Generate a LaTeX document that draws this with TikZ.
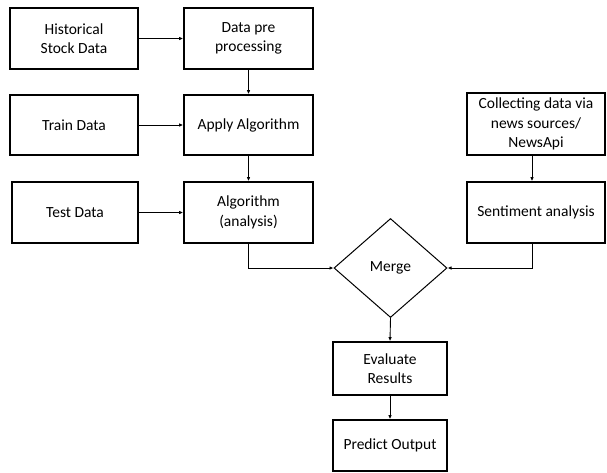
\documentclass[tikz,border=0pt]{standalone}
\usepackage{fontspec}
\setmainfont{Carlito}
\usetikzlibrary{shapes.geometric,arrows.meta}
\begin{document}
\begin{tikzpicture}[x=1pt,y=-1pt,
  box/.style={draw=black,line width=1.6pt,rectangle,inner sep=0pt,align=center,font=\fontsize{15.5}{19.5}\selectfont},
  dia/.style={draw=black,line width=1pt,diamond,inner sep=0pt,font=\fontsize{15.5}{19}\selectfont},
  conn/.style={line width=0.9pt,-{Latex[length=4pt,width=3.5pt]}}]
\useasboundingbox (0,0) rectangle (607,472);
\node[box,minimum width=128pt,minimum height=61pt] (hist) at (74,38.5) {Historical\\Stock Data};
\node[box,minimum width=129pt,minimum height=61pt] (pre) at (248.5,38.5) {Data pre\\processing};
\node[box,minimum width=128pt,minimum height=60pt] (train) at (74,125) {Train Data};
\node[box,minimum width=129pt,minimum height=60pt] (apply) at (248.5,125) {Apply Algorithm};
\node[box,minimum width=126pt,minimum height=61pt] (test) at (75,212.5) {Test Data};
\node[box,minimum width=129pt,minimum height=61pt] (alg) at (248.5,212.5) {Algorithm\\(analysis)};
\node[box,minimum width=138pt,minimum height=62pt] (coll) at (536,124) {Collecting data via\\news sources/\\NewsApi};
\node[box,minimum width=138pt,minimum height=61pt] (sent) at (536,212.5) {Sentiment analysis};
\node[dia,minimum width=113pt,minimum height=99pt] (merge) at (390.5,268) {Merge};
\node[box,minimum width=114pt,minimum height=53pt] (eval) at (390,368.5) {Evaluate\\Results};
\node[box,minimum width=114pt,minimum height=51pt] (pred) at (390,445.5) {Predict Output};
\draw[conn] (hist) -- (pre);
\draw[conn] (train) -- (apply);
\draw[conn] (test.east) -- (alg.west|-test.east);
\draw[conn] (pre) -- (apply);
\draw[conn] (apply) -- (alg);
\draw[conn] ([xshift=-4pt]coll.south) -- ([xshift=-4pt]sent.north);
\draw[conn] (alg.south) |- (merge.west);
\draw[conn] ([xshift=-4pt]sent.south) |- (merge.east);
\draw[conn] (merge.south) -- (eval.north);
\draw[conn] (eval) -- (pred);
\end{tikzpicture}
\end{document}
